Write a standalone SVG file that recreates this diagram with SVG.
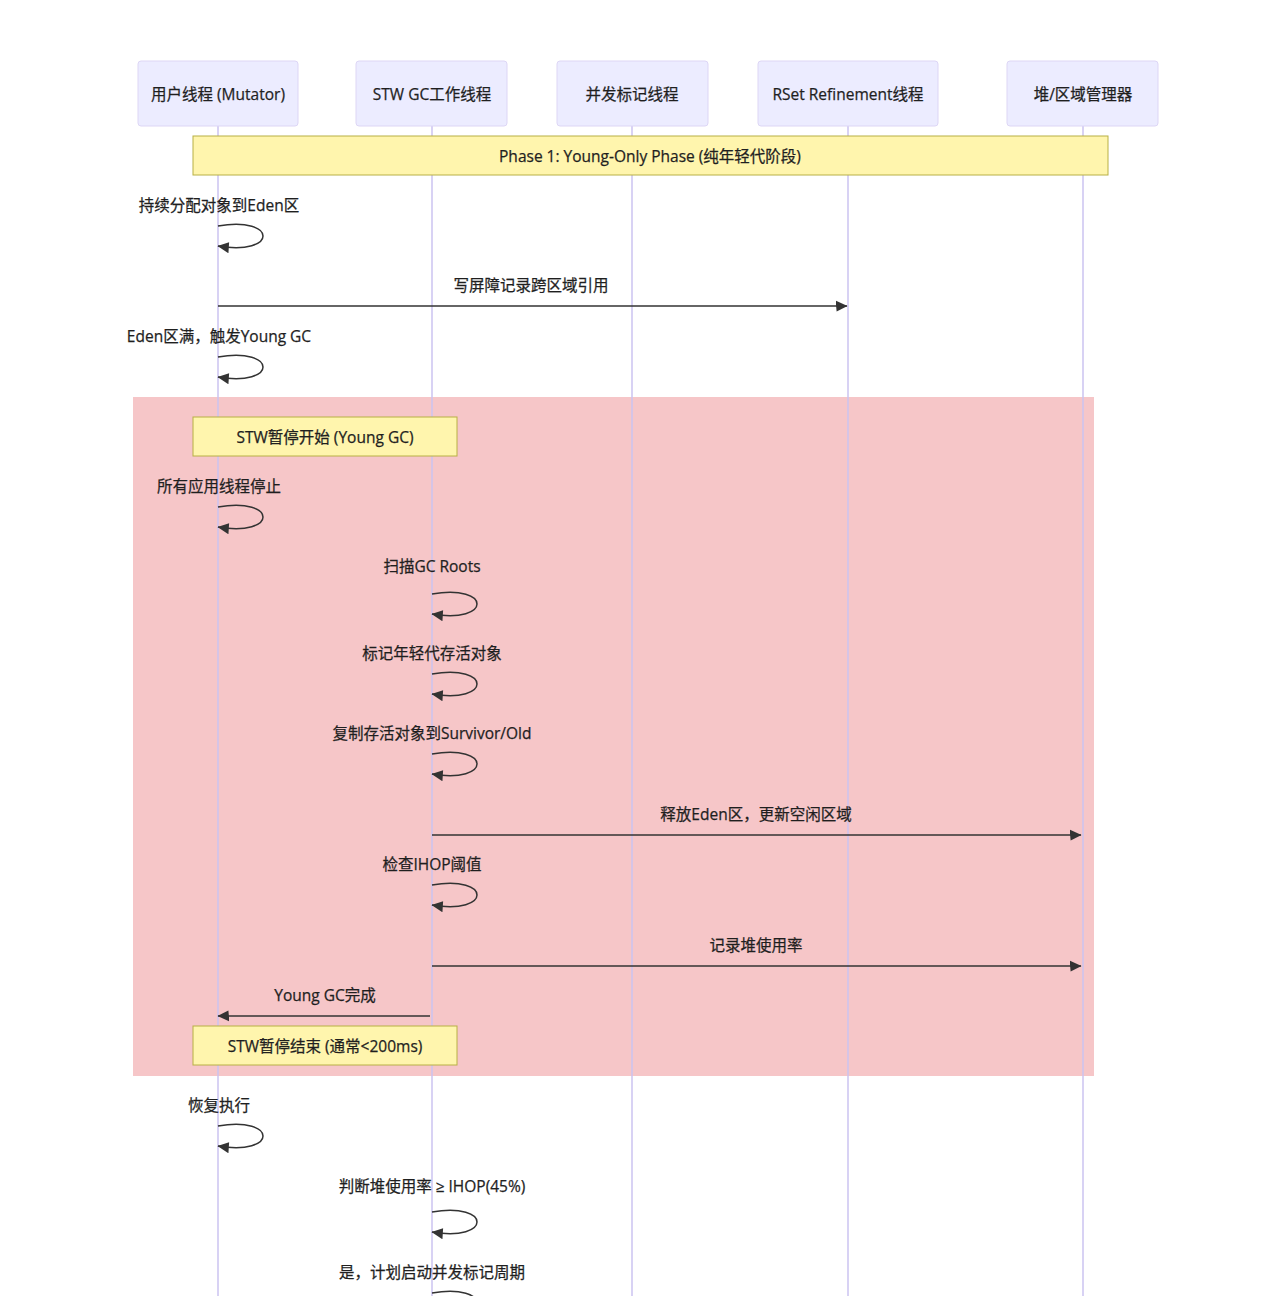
<svg xmlns="http://www.w3.org/2000/svg" width="1266" height="1296" viewBox="0 0 1266 1296">
<style>
text{font-family:"Open Sans","Noto Sans CJK SC",sans-serif;font-size:15.5px;fill:#1f1f1f;stroke:#1f1f1f;stroke-width:0.25;text-anchor:middle;dominant-baseline:central}
.actor{fill:#ececff;stroke:#ddd6f5;stroke-width:1}
.life{stroke:#cbc3f0;stroke-width:1.5}
.note{fill:#fff5ad;stroke:#b8b044;stroke-width:1}
.msg{stroke:#333;stroke-width:1.5;fill:none;marker-end:url(#ah)}
</style>
<defs>
<marker id="ah" viewBox="-1 0 11 10" refX="9.5" refY="5" markerWidth="12" markerHeight="12" markerUnits="userSpaceOnUse" orient="auto">
<path d="M -1 0 L 10 5 L 0 10 z" fill="#333"/>
</marker>
</defs>
<rect width="1266" height="1296" fill="#fff"/>
<rect id="stw-region" x="133" y="397" width="961" height="679" fill="#f6c6c8"/>
<g id="lifelines">
<line class="life" x1="218" y1="126" x2="218" y2="1296"/>
<line class="life" x1="432" y1="126" x2="432" y2="1296"/>
<line class="life" x1="632" y1="126" x2="632" y2="1296"/>
<line class="life" x1="848" y1="126" x2="848" y2="1296"/>
<line class="life" x1="1083" y1="126" x2="1083" y2="1296"/>
</g>
<g id="actor-mutator"><rect class="actor" x="138" y="61" width="160" height="65" rx="3"/><text x="218" y="93.5">用户线程 (Mutator)</text></g>
<g id="actor-stw"><rect class="actor" x="356" y="61" width="151" height="65" rx="3"/><text x="432" y="93.5">STW GC工作线程</text></g>
<g id="actor-concurrent"><rect class="actor" x="557" y="61" width="151" height="65" rx="3"/><text x="632" y="93.5">并发标记线程</text></g>
<g id="actor-rset"><rect class="actor" x="758" y="61" width="180" height="65" rx="3"/><text x="848" y="93.5">RSet Refinement线程</text></g>
<g id="actor-heap"><rect class="actor" x="1007" y="61" width="151" height="65" rx="3"/><text x="1083" y="93.5">堆/区域管理器</text></g>
<g id="note-phase1"><rect class="note" x="193" y="136" width="915" height="39"/><text x="650" y="155.5">Phase 1: Young-Only Phase (纯年轻代阶段)</text></g>
<g id="note-stw-start"><rect class="note" x="193" y="417" width="264" height="39"/><text x="325" y="436.5">STW暂停开始 (Young GC)</text></g>
<g id="note-stw-end"><rect class="note" x="193" y="1026" width="264" height="39"/><text x="325" y="1045.5">STW暂停结束 (通常&lt;200ms)</text></g>
<g id="connectors">
<path class="msg" d="M 218,226 C 278,216 278,256 218,246"/>
<path class="msg" d="M 218,306 L 847,306"/>
<path class="msg" d="M 218,357 C 278,347 278,387 218,377"/>
<path class="msg" d="M 218,507 C 278,497 278,537 218,527"/>
<path class="msg" d="M 432,594 C 492,584 492,624 432,614"/>
<path class="msg" d="M 432,674 C 492,664 492,704 432,694"/>
<path class="msg" d="M 432,754 C 492,744 492,784 432,774"/>
<path class="msg" d="M 432,835 L 1081,835"/>
<path class="msg" d="M 432,885 C 492,875 492,915 432,905"/>
<path class="msg" d="M 432,966 L 1081,966"/>
<path class="msg" d="M 430,1016 L 218,1016"/>
<path class="msg" d="M 218,1126 C 278,1116 278,1156 218,1146"/>
<path class="msg" d="M 432,1212 C 492,1202 492,1242 432,1232"/>
<path class="msg" d="M 432,1293 C 492,1283 492,1323 432,1313"/>
</g>
<g id="labels">
<text x="219" y="205">持续分配对象到Eden区</text>
<text x="531" y="285">写屏障记录跨区域引用</text>
<text x="219" y="336">Eden区满，触发Young GC</text>
<text x="219" y="486">所有应用线程停止</text>
<text x="432" y="566">扫描GC Roots</text>
<text x="432" y="653">标记年轻代存活对象</text>
<text x="432" y="733">复制存活对象到Survivor/Old</text>
<text x="756" y="814">释放Eden区，更新空闲区域</text>
<text x="432" y="864">检查IHOP阈值</text>
<text x="756" y="945">记录堆使用率</text>
<text x="325" y="995">Young GC完成</text>
<text x="219" y="1105">恢复执行</text>
<text x="432" y="1186">判断堆使用率 ≥ IHOP(45%)</text>
<text x="432" y="1272">是，计划启动并发标记周期</text>
</g>
</svg>
